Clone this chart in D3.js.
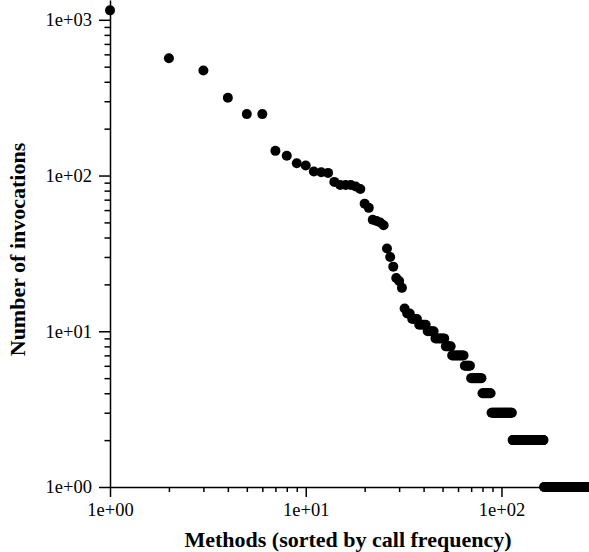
<!DOCTYPE html>
<html><head><meta charset="utf-8">
<script src="https://cdn.jsdelivr.net/npm/d3@7"></script>
<style>body{margin:0;background:#fff} svg{display:block}</style>
</head><body>
<svg id="c" width="589" height="552"></svg>
<script>
// Number of invocations per method, sorted by call frequency (rank 1..N)
const invocations = [
  1150, 567, 472, 316, 248, 248, 144, 134, 120, 116,
  106, 105, 104, 91, 87, 87, 87, 85, 82, 66,
  62, 52, 51, 50, 48, 34, 30, 26, 22, 21,
  19, 14, 13, 13, 12, 12, 12, 11, 11, 11,
  11, 10, 10, 10, 10, 9, 9, 9, 9, 9,
  9, 8, 8, 8, 8, 7, 7, 7, 7, 7,
  7, 7, 7, 7, 6, 6, 6, 6, 6, 5,
  5, 5, 5, 5, 5, 5, 5, 5, 5, 4,
  4, 4, 4, 4, 4, 4, 4, 4, 3, 3,
  3, 3, 3, 3, 3, 3, 3, 3, 3, 3,
  3, 3, 3, 3, 3, 3, 3, 3, 3, 3,
  3, 3, 3, 2, 2, 2, 2, 2, 2, 2,
  2, 2, 2, 2, 2, 2, 2, 2, 2, 2,
  2, 2, 2, 2, 2, 2, 2, 2, 2, 2,
  2, 2, 2, 2, 2, 2, 2, 2, 2, 2,
  2, 2, 2, 2, 2, 2, 2, 2, 2, 2,
  2, 2, 2, 2, 1, 1, 1, 1, 1, 1,
  1, 1, 1, 1, 1, 1, 1, 1, 1, 1,
  1, 1, 1, 1, 1, 1, 1, 1, 1, 1,
  1, 1, 1, 1, 1, 1, 1, 1, 1, 1,
  1, 1, 1, 1, 1, 1, 1, 1, 1, 1,
  1, 1, 1, 1, 1, 1, 1, 1, 1, 1,
  1, 1, 1, 1, 1, 1, 1, 1, 1, 1,
  1, 1, 1, 1, 1, 1, 1, 1, 1, 1,
  1, 1, 1, 1, 1, 1, 1, 1, 1, 1,
  1, 1, 1, 1, 1, 1, 1, 1, 1, 1,
  1, 1, 1, 1, 1, 1, 1, 1, 1, 1,
  1, 1, 1, 1, 1, 1, 1, 1, 1, 1,
  1, 1, 1, 1, 1, 1, 1, 1, 1, 1
];
const xMajorTicks = [1, 10, 100];
const xTickLabels = ["1e+00", "1e+01", "1e+02"];
const yMajorTicks = [1, 10, 100, 1000];
const yTickLabels = ["1e+00", "1e+01", "1e+02", "1e+03"];
const xTitle = "Methods (sorted by call frequency)";
const yTitle = "Number of invocations";

const W = 589, H = 552;
const serif = "'Liberation Serif','Times New Roman',Times,serif";
const svg = d3.select("#c");

const x = d3.scaleLog().domain([1, 280]).range([110, 589]);
const y = d3.scaleLog().domain([1, 1340]).range([487, 0]);

function minors(lo, hi) {
  const out = [];
  for (let p = lo; p <= hi; p *= 10)
    for (let k = 2; k <= 9; k++) out.push(k * p);
  return out;
}
const xMinor = minors(1, 100).filter(v => v <= 280);
const yMinor = minors(1, 100);

// X axis
const gx = svg.append("g").attr("transform", "translate(0,487)");
gx.call(d3.axisBottom(x).tickValues(xMajorTicks).tickSize(10).tickSizeOuter(0)
  .tickPadding(5.5).tickFormat((d, i) => xTickLabels[i]));
gx.append("g").call(d3.axisBottom(x).tickValues(xMinor).tickSize(5).tickFormat(""))
  .select(".domain").remove();

// Y axis
const gy = svg.append("g").attr("transform", "translate(110,0)");
gy.call(d3.axisLeft(y).tickValues(yMajorTicks).tickSize(11).tickSizeOuter(0)
  .tickPadding(7).tickFormat((d, i) => yTickLabels[i]));
gy.append("g").call(d3.axisLeft(y).tickValues(yMinor).tickSize(5.5).tickFormat(""))
  .select(".domain").remove();

svg.selectAll(".domain, .tick line").attr("stroke", "#000").attr("stroke-width", 1.5);
svg.selectAll(".tick text").attr("font-family", serif).attr("font-size", 18.5).attr("fill", "#000");

// Points
svg.append("g").selectAll("circle").data(invocations).join("circle")
  .attr("cx", (d, i) => x(i + 1))
  .attr("cy", d => y(d))
  .attr("r", 5)
  .attr("fill", "#000");

// Titles
svg.append("text").attr("x", 348).attr("y", 547).attr("text-anchor", "middle")
  .attr("font-family", serif).attr("font-weight", "bold").attr("font-size", 22)
  .text(xTitle);
svg.append("text").attr("transform", "translate(25,249.5) rotate(-90)")
  .attr("text-anchor", "middle")
  .attr("font-family", serif).attr("font-weight", "bold").attr("font-size", 22)
  .text(yTitle);
</script>
</body></html>
